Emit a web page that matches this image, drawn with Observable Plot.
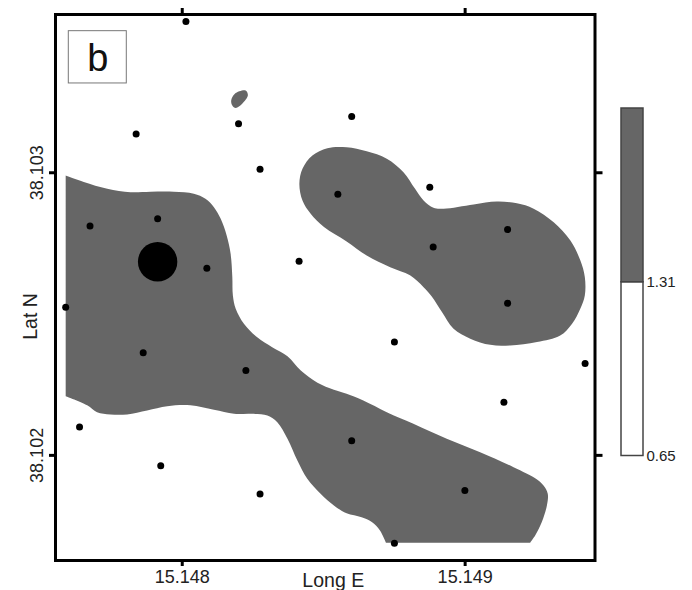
<!DOCTYPE html>
<html>
<head>
<meta charset="utf-8">
<style>
html,body{margin:0;padding:0;background:#fff;}
#wrap{position:relative;width:692px;height:590px;overflow:hidden;}
#wrap svg{position:absolute;left:0;top:0;background:transparent;}
</style>
<script src="https://cdn.jsdelivr.net/npm/d3@7"></script>
<script src="https://cdn.jsdelivr.net/npm/@observablehq/plot@0.6"></script>
</head>
<body>
<div id="wrap"></div>
<script>
const lonTicks = [15.148, 15.149];
const latTicks = [38.102, 38.103];
const lonDomain = [15.147552, 15.149459];
const latDomain = [38.101628, 38.103560];

const westSouthZone = [[15.147588,38.102990],[15.147652,38.102967],[15.147735,38.102943],[15.147817,38.102931],[15.147888,38.102933],[15.147970,38.102933],[15.148041,38.102926],[15.148082,38.102908],[15.148112,38.102878],[15.148136,38.102837],[15.148157,38.102778],[15.148171,38.102713],[15.148177,38.102631],[15.148179,38.102566],[15.148189,38.102519],[15.148218,38.102466],[15.148265,38.102418],[15.148318,38.102383],[15.148372,38.102351],[15.148419,38.102300],[15.148478,38.102257],[15.148536,38.102232],[15.148581,38.102218],[15.148640,38.102194],[15.148723,38.102153],[15.148817,38.102112],[15.148935,38.102059],[15.149053,38.102011],[15.149171,38.101958],[15.149254,38.101915],[15.149277,38.101893],[15.149292,38.101864],[15.149289,38.101823],[15.149271,38.101764],[15.149248,38.101717],[15.149230,38.101691],[15.149230,38.101691],[15.148720,38.101691],[15.148720,38.101691],[15.148699,38.101734],[15.148670,38.101764],[15.148634,38.101781],[15.148581,38.101795],[15.148536,38.101823],[15.148489,38.101864],[15.148442,38.101917],[15.148407,38.101982],[15.148372,38.102059],[15.148336,38.102117],[15.148301,38.102141],[15.148242,38.102147],[15.148183,38.102147],[15.148112,38.102161],[15.148029,38.102177],[15.147947,38.102174],[15.147876,38.102159],[15.147805,38.102145],[15.147746,38.102145],[15.147699,38.102153],[15.147664,38.102177],[15.147588,38.102209]];

const northEastZone = [[15.148581,38.103090],[15.148513,38.103087],[15.148460,38.103061],[15.148425,38.103014],[15.148414,38.102961],[15.148425,38.102902],[15.148454,38.102855],[15.148501,38.102808],[15.148581,38.102757],[15.148652,38.102707],[15.148735,38.102666],[15.148805,38.102637],[15.148853,38.102595],[15.148882,38.102562],[15.148918,38.102507],[15.148959,38.102448],[15.149018,38.102413],[15.149089,38.102391],[15.149159,38.102389],[15.149254,38.102401],[15.149336,38.102424],[15.149378,38.102466],[15.149407,38.102519],[15.149423,38.102566],[15.149423,38.102631],[15.149407,38.102690],[15.149372,38.102760],[15.149313,38.102825],[15.149242,38.102873],[15.149183,38.102892],[15.149112,38.102898],[15.149030,38.102888],[15.148924,38.102873],[15.148888,38.102876],[15.148853,38.102902],[15.148823,38.102943],[15.148782,38.103002],[15.148723,38.103050],[15.148652,38.103076]];

const smallZone = [[15.148173,38.103256],[15.148186,38.103280],[15.148224,38.103291],[15.148232,38.103274],[15.148212,38.103244],[15.148189,38.103229],[15.148177,38.103238]];

const stations = [[15.148013,38.103535],[15.148199,38.103173],[15.147837,38.103137],[15.148275,38.103012],[15.148550,38.102924],[15.147674,38.102812],[15.147913,38.102837],[15.148087,38.102662],[15.148413,38.102687],[15.148599,38.103199],[15.148875,38.102949],[15.149150,38.102799],[15.148887,38.102737],[15.147588,38.102524],[15.147862,38.102363],[15.148225,38.102300],[15.147637,38.102100],[15.147924,38.101963],[15.148275,38.101863],[15.149150,38.102538],[15.148750,38.102401],[15.149424,38.102325],[15.149137,38.102188],[15.148599,38.102052],[15.148999,38.101876],[15.148750,38.101689]];
const mainSite = [[15.147913,38.102685]];

const panelBox = [{x1:15.147599,x2:15.147804,y1:38.103316,y2:38.103501}];
const panelLabel = [{x:15.147702,y:38.103373,t:"b"}];

const classBreaks = [0.65, 1.31];
const classTop = 1.97;
const classBands = [{lo:0.65,hi:1.31,fill:"#ffffff"},{lo:1.31,hi:classTop,fill:"#666666"}];

const font = "Liberation Sans, Arial, Helvetica, sans-serif";
const zone = "#666666";
const lx = d => d[0], ly = d => d[1];
const noLabel = () => "";

const map = Plot.plot({
  width: 692, height: 590,
  marginLeft: 55, marginRight: 97.5, marginTop: 14, marginBottom: 30,
  style: {fontFamily: font, background: "transparent"},
  x: {domain: lonDomain, label: null},
  y: {domain: latDomain, label: null},
  marks: [
    Plot.line(westSouthZone, {x: lx, y: ly, curve: "catmull-rom", fill: zone, stroke: "none"}),
    Plot.line(northEastZone, {x: lx, y: ly, curve: "catmull-rom-closed", fill: zone, stroke: "none"}),
    Plot.line(smallZone, {x: lx, y: ly, curve: "catmull-rom-closed", fill: zone, stroke: "none"}),
    Plot.dot(stations, {x: lx, y: ly, r: 3.5, fill: "#000", stroke: "none"}),
    Plot.dot(mainSite, {x: lx, y: ly, r: 19.7, fill: "#000", stroke: "none"}),
    Plot.rect(panelBox, {x1: "x1", x2: "x2", y1: "y1", y2: "y2", fill: "#fff", stroke: "#777", strokeWidth: 1}),
    Plot.text(panelLabel, {x: "x", y: "y", text: "t", fontSize: 38, fill: "#111", textAnchor: "middle", lineAnchor: "bottom", dy: 4}),
    Plot.frame({stroke: "#000", strokeWidth: 3}),
    Plot.axisX({anchor: "bottom", ticks: lonTicks, tickFormat: d3.format(".3f"), tickSize: 6, strokeWidth: 3, tickPadding: 4, fontSize: 18, fill: "#222", label: null}),
    Plot.axisX({anchor: "top", ticks: lonTicks, tickFormat: noLabel, tickSize: 7, strokeWidth: 3, label: null}),
    Plot.axisY({anchor: "left", ticks: latTicks, tickFormat: d3.format(".3f"), tickSize: 6, strokeWidth: 3, tickRotate: -90, tickPadding: 7, fontSize: 18, fill: "#222", label: null}),
    Plot.axisY({anchor: "right", ticks: latTicks, tickFormat: noLabel, tickSize: 7, strokeWidth: 3, label: null}),
    Plot.text(["Long E"], {frameAnchor: "bottom", dx: 8, dy: 26, fontSize: 19.5, fill: "#222", lineAnchor: "bottom", text: d => d}),
    Plot.text(["Lat N"], {frameAnchor: "left", textAnchor: "middle", dx: -25, dy: 29, rotate: -90, fontSize: 19.5, fill: "#222", text: d => d})
  ]
});

const key = Plot.plot({
  width: 692, height: 590,
  marginLeft: 621, marginRight: 49, marginTop: 108, marginBottom: 134.5,
  style: {fontFamily: font, background: "transparent"},
  x: {domain: [0, 1], axis: null},
  y: {domain: [0.65, classTop], label: null, axis: null},
  marks: [
    Plot.rect(classBands, {x1: 0, x2: 1, y1: "lo", y2: "hi", fill: "fill", stroke: "#444", strokeWidth: 1.5}),
    Plot.axisY({anchor: "right", ticks: classBreaks, tickFormat: d3.format(".2f"), tickSize: 0, tickPadding: 3, fontSize: 15, fill: "#222", label: null})
  ]
});

document.getElementById("wrap").append(map, key);
</script>
</body>
</html>
